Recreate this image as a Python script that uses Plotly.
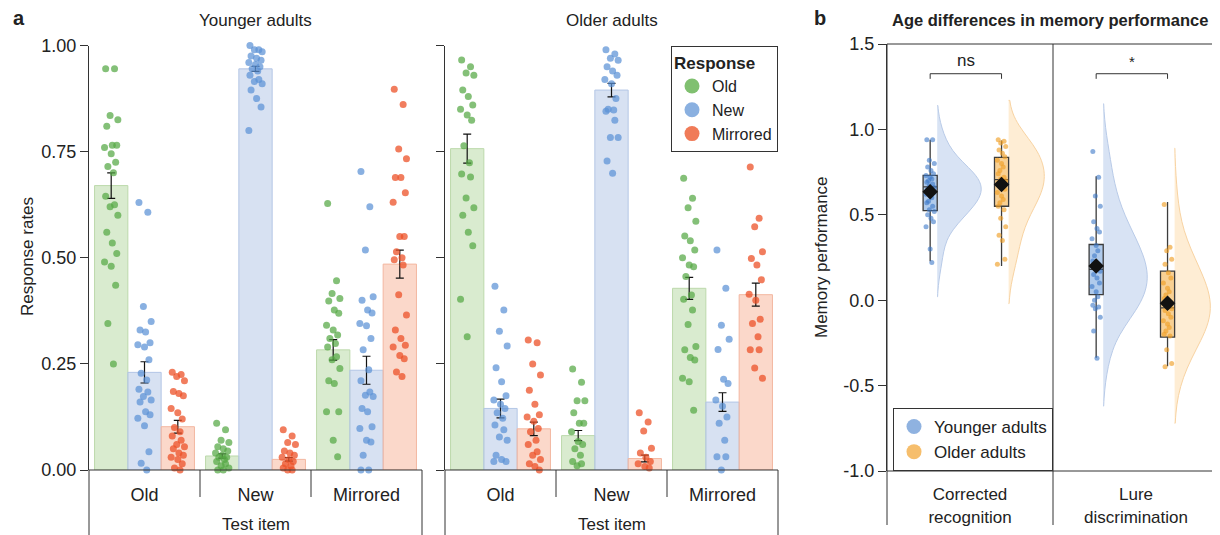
import plotly.graph_objects as go

# The page body has an 8px margin; figure is sized/positioned so that it lands on the 1220x535 window.
OFF = 8
FW, FH = 1212, 527
FONT = "Liberation Sans, Arial, sans-serif"
TXT = "#222222"


def px(x):
    return (x - OFF) / FW


def py(y):
    return 1 - (y - OFF) / FH


# ---------------- Panel a data ----------------
test_items = ["Old", "New", "Mirrored"]
responses = ["Old", "New", "Mirrored"]
a_yticks = [0, 0.25, 0.5, 0.75, 1.0]
a_yticklabels = ["0.00", "0.25", "0.50", "0.75", "1.00"]

# Younger adults: bar means / SE per response, across test items (Old, New, Mirrored)
ya_mean_resp_old = [0.670, 0.033, 0.283]
ya_mean_resp_new = [0.230, 0.945, 0.235]
ya_mean_resp_mir = [0.102, 0.025, 0.485]
ya_se_resp_old = [0.030, 0.005, 0.024]
ya_se_resp_new = [0.025, 0.006, 0.033]
ya_se_resp_mir = [0.015, 0.004, 0.033]

# Older adults
oa_mean_resp_old = [0.757, 0.081, 0.428]
oa_mean_resp_new = [0.145, 0.895, 0.160]
oa_mean_resp_mir = [0.097, 0.027, 0.413]
oa_se_resp_old = [0.034, 0.012, 0.026]
oa_se_resp_new = [0.022, 0.016, 0.022]
oa_se_resp_mir = [0.016, 0.008, 0.027]

# Individual participant rates (younger adults)
ya_item_old_resp_old = [0.945, 0.945, 0.835, 0.825, 0.81, 0.765, 0.765, 0.76, 0.745, 0.725, 0.715, 0.70,
                        0.645, 0.625, 0.62, 0.60, 0.56, 0.535, 0.51, 0.49, 0.48, 0.435, 0.345, 0.25]
ya_item_old_resp_new = [0.63, 0.607, 0.385, 0.35, 0.33, 0.325, 0.30, 0.295, 0.29, 0.26, 0.228, 0.212,
                        0.19, 0.184, 0.173, 0.165, 0.16, 0.137, 0.13, 0.122, 0.104, 0.043, 0.016, 0.0]
ya_item_old_resp_mir = [0.23, 0.225, 0.22, 0.21, 0.185, 0.18, 0.175, 0.145, 0.135, 0.12, 0.10, 0.09,
                        0.08, 0.07, 0.06, 0.055, 0.05, 0.04, 0.035, 0.03, 0.025, 0.015, 0.005, 0.0]
ya_item_new_resp_old = [0.11, 0.095, 0.07, 0.065, 0.055, 0.05, 0.045, 0.04, 0.035, 0.03, 0.03, 0.025,
                        0.02, 0.015, 0.01, 0.005, 0.0, 0.0]
ya_item_new_resp_new = [1.0, 0.99, 0.99, 0.985, 0.975, 0.97, 0.965, 0.96, 0.955, 0.95, 0.945, 0.94,
                        0.93, 0.92, 0.915, 0.91, 0.895, 0.875, 0.855, 0.80]
ya_item_new_resp_mir = [0.095, 0.08, 0.065, 0.06, 0.045, 0.04, 0.035, 0.03, 0.025, 0.02, 0.015, 0.01,
                        0.005, 0.0, 0.0]
ya_item_mir_resp_old = [0.628, 0.446, 0.416, 0.404, 0.398, 0.377, 0.369, 0.341, 0.33, 0.318, 0.31, 0.298,
                        0.29, 0.267, 0.26, 0.239, 0.21, 0.204, 0.137, 0.137, 0.07, 0.031]
ya_item_mir_resp_new = [0.703, 0.62, 0.518, 0.408, 0.40, 0.377, 0.37, 0.345, 0.34, 0.31, 0.283, 0.236,
                        0.21, 0.184, 0.176, 0.173, 0.145, 0.137, 0.102, 0.098, 0.07, 0.066, 0.035, 0.0, 0.0]
ya_item_mir_resp_mir = [0.897, 0.861, 0.756, 0.733, 0.689, 0.689, 0.653, 0.631, 0.55, 0.55, 0.514, 0.50,
                        0.495, 0.483, 0.413, 0.365, 0.33, 0.31, 0.294, 0.29, 0.27, 0.262, 0.231, 0.22]

# Individual participant rates (older adults)
oa_item_old_resp_old = [0.966, 0.95, 0.935, 0.93, 0.895, 0.88, 0.86, 0.85, 0.836, 0.824, 0.764, 0.724,
                        0.697, 0.69, 0.641, 0.618, 0.60, 0.56, 0.528, 0.402, 0.314]
oa_item_old_resp_new = [0.433, 0.377, 0.327, 0.292, 0.241, 0.208, 0.175, 0.165, 0.155, 0.145, 0.135, 0.122,
                        0.106, 0.095, 0.078, 0.07, 0.035, 0.025, 0.02, 0.02]
oa_item_old_resp_mir = [0.306, 0.30, 0.25, 0.224, 0.188, 0.155, 0.13, 0.125, 0.115, 0.098, 0.09, 0.07,
                        0.06, 0.043, 0.035, 0.025, 0.015, 0.008, 0.0]
oa_item_new_resp_old = [0.238, 0.207, 0.163, 0.163, 0.135, 0.11, 0.11, 0.09, 0.067, 0.06, 0.05, 0.035,
                        0.02, 0.015, 0.01]
oa_item_new_resp_new = [0.99, 0.98, 0.97, 0.965, 0.95, 0.94, 0.93, 0.92, 0.91, 0.875, 0.85, 0.848,
                        0.845, 0.824, 0.783, 0.783, 0.728, 0.699]
oa_item_new_resp_mir = [0.135, 0.113, 0.092, 0.051, 0.04, 0.03, 0.02, 0.015, 0.008, 0.005]
oa_item_mir_resp_old = [0.687, 0.64, 0.618, 0.586, 0.551, 0.54, 0.518, 0.50, 0.483, 0.479, 0.456, 0.412,
                        0.402, 0.377, 0.343, 0.291, 0.283, 0.265, 0.259, 0.216, 0.208, 0.141]
oa_item_mir_resp_new = [0.518, 0.428, 0.341, 0.308, 0.284, 0.214, 0.204, 0.165, 0.15, 0.125, 0.11, 0.07,
                        0.031, 0.031, 0.0]
oa_item_mir_resp_mir = [0.714, 0.593, 0.573, 0.514, 0.498, 0.483, 0.448, 0.414, 0.40, 0.355, 0.345, 0.314,
                        0.283, 0.283, 0.24, 0.216]

# ---------------- Panel b data ----------------
measures = ["Corrected<br>recognition", "Lure<br>discrimination"]
groups = ["Younger adults", "Older adults"]
b_yticks = [-1.0, -0.5, 0.0, 0.5, 1.0, 1.5]
b_yticklabels = ["-1.0", "-0.5", "0.0", "0.5", "1.0", "1.5"]

ya_cr = [0.94, 0.94, 0.82, 0.80, 0.78, 0.76, 0.74, 0.73, 0.72, 0.71, 0.70, 0.69, 0.68, 0.67, 0.66, 0.65,
         0.64, 0.63, 0.62, 0.61, 0.60, 0.58, 0.57, 0.55, 0.53, 0.52, 0.50, 0.48, 0.46, 0.43, 0.30, 0.22]
oa_cr = [0.94, 0.93, 0.92, 0.90, 0.88, 0.86, 0.84, 0.82, 0.80, 0.78, 0.76, 0.74, 0.72, 0.71, 0.70, 0.69,
         0.67, 0.65, 0.63, 0.61, 0.59, 0.57, 0.55, 0.53, 0.48, 0.43, 0.38, 0.35, 0.24, 0.21]
ya_ld = [0.87, 0.72, 0.61, 0.55, 0.46, 0.42, 0.40, 0.36, 0.32, 0.29, 0.26, 0.23, 0.21, 0.19, 0.17, 0.15,
         0.13, 0.10, 0.08, 0.05, 0.02, 0.0, -0.03, -0.04, -0.05, -0.10, -0.18, -0.34]
oa_ld = [0.56, 0.31, 0.29, 0.24, 0.21, 0.16, 0.13, 0.10, 0.07, 0.05, 0.03, 0.01, -0.01, -0.03, -0.05, -0.06,
         -0.08, -0.10, -0.12, -0.14, -0.16, -0.18, -0.20, -0.21, -0.29, -0.37, -0.39]

# box statistics: [Corrected recognition, Lure discrimination]
ya_q1 = [0.525, 0.033]
ya_med = [0.663, 0.180]
ya_q3 = [0.731, 0.326]
ya_lo = [0.228, -0.337]
ya_hi = [0.940, 0.725]
ya_mean_b = [0.635, 0.200]
oa_q1 = [0.550, -0.216]
oa_med = [0.706, -0.045]
oa_q3 = [0.836, 0.170]
oa_lo = [0.200, -0.386]
oa_hi = [0.935, 0.575]
oa_mean_b = [0.677, -0.018]
sig_labels = ["ns", "*"]

# ---------------- styles ----------------
pt_col = {"Old": "rgba(84,168,68,0.72)", "New": "rgba(92,146,214,0.72)", "Mirrored": "rgba(236,82,40,0.75)"}
bar_fill = {"Old": "rgba(196,224,182,0.65)", "New": "rgba(190,207,234,0.62)", "Mirrored": "rgba(249,190,166,0.6)"}
bar_line = {"Old": "#bcd9ac", "New": "#b3c6e6", "Mirrored": "#f3b7a0"}
leg_col = {"Old": "#80c070", "New": "#8ab0e0", "Mirrored": "#f07b58"}
grp_pt = {"Younger adults": "rgba(60,120,200,0.6)", "Older adults": "rgba(240,160,40,0.65)"}
grp_box = {"Younger adults": "rgba(150,185,230,0.75)", "Older adults": "rgba(246,196,120,0.8)"}
grp_vio = {"Younger adults": "rgba(190,208,236,0.6)", "Older adults": "rgba(253,222,176,0.55)"}
grp_vio_line = {"Younger adults": "#b9cbe8", "Older adults": "#f8d3a2"}
grp_leg = {"Younger adults": "#8fb2e0", "Older adults": "#f6be6c"}

JIT_A = [-0.05, 0.03, -0.01, 0.06, -0.04, 0.01, 0.05, -0.06, 0.0, 0.04, -0.03, 0.02]
JIT_B = [-0.02, 0.015, -0.005, 0.025, -0.015, 0.005, 0.02, -0.025, 0.0, 0.01, -0.01]

fig = go.Figure()

panels_a = [
    ("x", "y",
     [ya_mean_resp_old, ya_mean_resp_new, ya_mean_resp_mir],
     [ya_se_resp_old, ya_se_resp_new, ya_se_resp_mir],
     [[ya_item_old_resp_old, ya_item_new_resp_old, ya_item_mir_resp_old],
      [ya_item_old_resp_new, ya_item_new_resp_new, ya_item_mir_resp_new],
      [ya_item_old_resp_mir, ya_item_new_resp_mir, ya_item_mir_resp_mir]]),
    ("x2", "y2",
     [oa_mean_resp_old, oa_mean_resp_new, oa_mean_resp_mir],
     [oa_se_resp_old, oa_se_resp_new, oa_se_resp_mir],
     [[oa_item_old_resp_old, oa_item_new_resp_old, oa_item_mir_resp_old],
      [oa_item_old_resp_new, oa_item_new_resp_new, oa_item_mir_resp_new],
      [oa_item_old_resp_mir, oa_item_new_resp_mir, oa_item_mir_resp_mir]]),
]
BW = 0.3
for xa, ya, means, ses, pts in panels_a:
    for j, r in enumerate(responses):
        off = (j - 1) * BW
        fig.add_trace(go.Bar(
            x=[i + off for i in range(len(test_items))], y=means[j], width=BW,
            marker=dict(color=bar_fill[r], line=dict(color=bar_line[r], width=1)),
            error_y=dict(type="data", array=ses[j], color="#111", thickness=1.2, width=4),
            xaxis=xa, yaxis=ya, showlegend=False, hoverinfo="skip"))
    for j, r in enumerate(responses):
        off = (j - 1) * BW
        xs, ys = [], []
        for i in range(len(test_items)):
            for k, v in enumerate(pts[j][i]):
                xs.append(i + off + JIT_A[k % len(JIT_A)])
                ys.append(v)
        fig.add_trace(go.Scatter(
            x=xs, y=ys, mode="markers", cliponaxis=False,
            marker=dict(size=7, color=pt_col[r], line=dict(width=0)),
            xaxis=xa, yaxis=ya, showlegend=False, hoverinfo="skip"))

for r in responses:
    fig.add_trace(go.Scatter(x=[None], y=[None], mode="markers", name=r,
                             marker=dict(size=15, color=leg_col[r]),
                             xaxis="x2", yaxis="y2", legend="legend"))

# ---------------- panel b ----------------
BOX_OFF = {"Younger adults": -0.24, "Older adults": 0.19}
BOX_W = 0.085
VIO_W = {"Younger adults": 0.53, "Older adults": 0.43}
pts_b = {"Younger adults": [ya_cr, ya_ld], "Older adults": [oa_cr, oa_ld]}
bw_b = {"Younger adults": [0.10, 0.14], "Older adults": [0.115, 0.165]}
stats_b = {"Younger adults": (ya_q1, ya_med, ya_q3, ya_lo, ya_hi, ya_mean_b),
           "Older adults": (oa_q1, oa_med, oa_q3, oa_lo, oa_hi, oa_mean_b)}

for g in groups:
    for m in range(len(measures)):
        base = m + BOX_OFF[g] + BOX_W / 2
        fig.add_trace(go.Violin(
            x=[base] * len(pts_b[g][m]), y=pts_b[g][m], side="positive", width=VIO_W[g],
            bandwidth=bw_b[g][m], spanmode="soft", points=False,
            box=dict(visible=False), meanline=dict(visible=False),
            fillcolor=grp_vio[g], line=dict(color=grp_vio_line[g], width=1),
            xaxis="x3", yaxis="y3", showlegend=False, hoverinfo="skip"))

for g in groups:
    q1, med, q3, lo, hi, mn = stats_b[g]
    fig.add_trace(go.Box(
        x=[m + BOX_OFF[g] for m in range(len(measures))],
        q1=q1, median=med, q3=q3, lowerfence=lo, upperfence=hi,
        width=BOX_W, whiskerwidth=0, boxpoints=False,
        fillcolor=grp_box[g], line=dict(color="#3c3c3c", width=1.3),
        xaxis="x3", yaxis="y3", showlegend=False, hoverinfo="skip"))
    xs, ys = [], []
    for m in range(len(measures)):
        for k, v in enumerate(pts_b[g][m]):
            xs.append(m + BOX_OFF[g] + JIT_B[k % len(JIT_B)])
            ys.append(v)
    fig.add_trace(go.Scatter(
        x=xs, y=ys, mode="markers", cliponaxis=False,
        marker=dict(size=5, color=grp_pt[g], line=dict(width=0)),
        xaxis="x3", yaxis="y3", showlegend=False, hoverinfo="skip"))
    fig.add_trace(go.Scatter(
        x=[m + BOX_OFF[g] for m in range(len(measures))], y=mn, mode="markers",
        marker=dict(symbol="diamond", size=12, color="#111"),
        xaxis="x3", yaxis="y3", showlegend=False, hoverinfo="skip"))

for g in groups:
    fig.add_trace(go.Scatter(x=[None], y=[None], mode="markers", name=g,
                             marker=dict(size=15, color=grp_leg[g]),
                             xaxis="x3", yaxis="y3", legend="legend2"))

# ---------------- layout ----------------
A1 = [px(89), px(422)]
A2 = [px(445), px(778)]
B = [px(887), px(1219)]
YA = [py(470), py(45.5)]
YB = [py(471), py(44)]


def xcat(domain, anchor, rng, vals, text, size=18):
    return dict(domain=domain, anchor=anchor, range=rng, tickvals=vals, ticktext=text,
                showline=False, showgrid=False, zeroline=False, ticks="outside", ticklen=8,
                tickcolor="rgba(0,0,0,0)", tickfont=dict(size=size, color=TXT), automargin=False)


def ynum(domain, anchor, rng, vals, text, labels=True):
    return dict(domain=domain, anchor=anchor, range=rng, tickvals=vals, ticktext=text,
                showticklabels=labels, showline=True, linecolor="#333", linewidth=1,
                ticks="outside", ticklen=8, tickcolor="#333", showgrid=False, zeroline=False,
                tickfont=dict(size=18, color=TXT), automargin=False)


shapes = []
line = dict(color="#333", width=1)
for xa, ya in [("x", "y"), ("x2", "y2")]:
    shapes.append(dict(type="line", xref=f"{xa} domain", yref=f"{ya} domain", x0=0, x1=1, y0=0, y1=0, line=line))
    for xd in [0, 1]:
        shapes.append(dict(type="line", xref=f"{xa} domain", yref="paper", x0=xd, x1=xd,
                           y0=0, y1=YA[0], line=line))
    for xd in [0.5, 1.5]:
        shapes.append(dict(type="line", xref=xa, yref="paper", x0=xd, x1=xd,
                           y0=py(497), y1=YA[0], line=line))
for yd in [0, 1]:
    shapes.append(dict(type="line", xref="x3 domain", yref="y3 domain", x0=0, x1=1, y0=yd, y1=yd, line=line))
for xd in [0, 1]:
    shapes.append(dict(type="line", xref="x3 domain", yref="paper", x0=xd, x1=xd,
                       y0=py(525), y1=YB[1], line=line))
shapes.append(dict(type="line", xref="x3", yref="paper", x0=0.5, x1=0.5, y0=py(525), y1=YB[1], line=line))

BR_TOP, BR_LEG = 1.326, 1.296
annotations = []
for m, lab in enumerate(sig_labels):
    x0 = m + BOX_OFF["Younger adults"]
    x1 = m + BOX_OFF["Older adults"]
    shapes.append(dict(type="path", xref="x3", yref="y3",
                       path=f"M {x0},{BR_LEG} L {x0},{BR_TOP} L {x1},{BR_TOP} L {x1},{BR_LEG}",
                       line=dict(color="#333", width=1)))
    annotations.append(dict(x=(x0 + x1) / 2, y=BR_TOP, xref="x3", yref="y3", text=lab,
                            showarrow=False, yanchor="bottom", yshift=2,
                            font=dict(size=17 if lab == "ns" else 15, color=TXT)))


def ann(text, x, y, size=17, bold=False, angle=0, xanchor="center"):
    annotations.append(dict(text=f"<b>{text}</b>" if bold else text, x=x, y=y, xref="paper", yref="paper",
                            showarrow=False, textangle=angle, xanchor=xanchor, yanchor="middle",
                            font=dict(size=size, color=TXT)))


ann("a", px(11), py(18), size=20, bold=True, xanchor="left")
ann("b", px(812), py(18), size=20, bold=True, xanchor="left")
ann("Younger adults", sum(A1) / 2, py(20))
ann("Older adults", sum(A2) / 2, py(20))
ann("Age differences in memory performance", px(1050), py(20), size=16.5, bold=True)
ann("Test item", sum(A1) / 2, py(524), size=17)
ann("Test item", sum(A2) / 2, py(524), size=17)
ann("Response rates", px(28), py(257), size=17, angle=-90)
ann("Memory performance", px(822), py(257), size=17, angle=-90)

fig.update_layout(
    width=FW, height=FH, margin=dict(l=0, r=0, t=0, b=0, pad=0), autosize=False,
    paper_bgcolor="white", plot_bgcolor="rgba(0,0,0,0)",
    font=dict(family=FONT, color=TXT, size=17),
    barmode="overlay", boxmode="overlay", violinmode="overlay",
    xaxis=xcat(A1, "y", [-0.5, 2.5], [0, 1, 2], test_items),
    yaxis=ynum(YA, "x", [0, 1], a_yticks, a_yticklabels),
    xaxis2=xcat(A2, "y2", [-0.5, 2.5], [0, 1, 2], test_items),
    yaxis2=ynum(YA, "x2", [0, 1], a_yticks, a_yticklabels, labels=False),
    xaxis3=xcat(B, "y3", [-0.5, 1.5], [0, 1], measures, size=17),
    yaxis3=ynum(YB, "x3", [-1, 1.5], b_yticks, b_yticklabels),
    legend=dict(title=dict(text="<b>Response</b>", font=dict(size=17)), x=px(671), y=py(46),
                xanchor="left", yanchor="top", bgcolor="white", bordercolor="#333", borderwidth=1,
                font=dict(size=16), tracegroupgap=0, itemwidth=30),
    legend2=dict(x=px(893), y=py(408), xanchor="left", yanchor="top", bgcolor="white",
                 bordercolor="#333", borderwidth=1, font=dict(size=17), itemwidth=30),
    shapes=shapes, annotations=annotations,
)

fig.write_html("out.html")
